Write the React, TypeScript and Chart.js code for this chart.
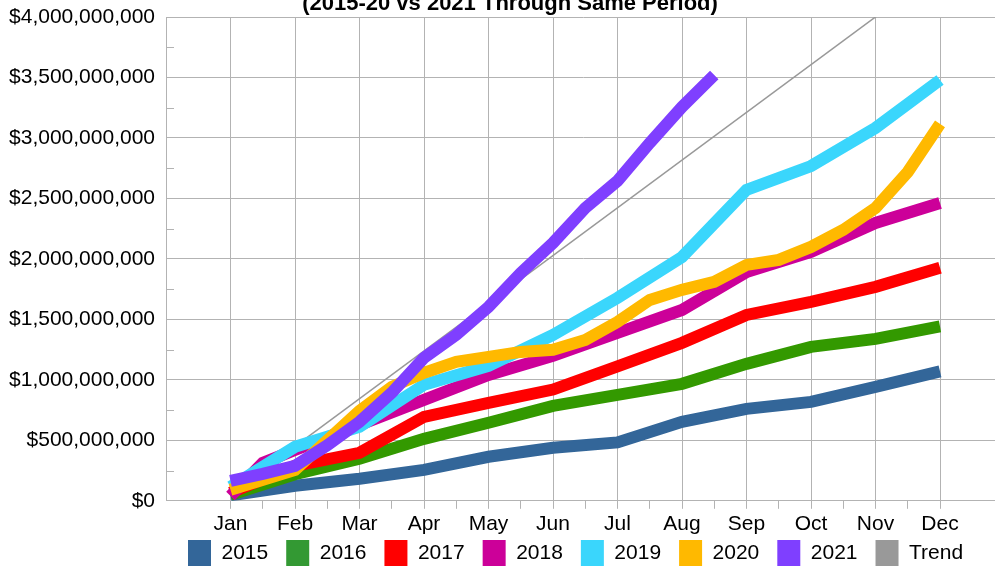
import React, { useEffect, useRef } from 'react';
import { Chart, registerables } from 'chart.js';

Chart.register(...registerables);

const TITLE = '(2015-20 vs 2021 Through Same Period)';
const MONTHS = ['Jan', 'Feb', 'Mar', 'Apr', 'May', 'Jun', 'Jul', 'Aug', 'Sep', 'Oct', 'Nov', 'Dec'];
// semi-monthly positions: 1 = Jan, 1.5 = mid-Jan, ... 12 = Dec
const X_POS = [1, 1.5, 2, 2.5, 3, 3.5, 4, 4.5, 5, 5.5, 6, 6.5, 7, 7.5, 8, 8.5, 9, 9.5, 10, 10.5, 11, 11.5, 12];
// y tick values (millions of dollars)
const Y_TICKS = [0, 250, 500, 750, 1000, 1250, 1500, 1750, 2000, 2250, 2500, 2750, 3000, 3250, 3500, 3750, 4000];

const N = null;
// cumulative values, millions of dollars
const S2015 = [45, N, 124, N, 182, N, 256, N, 364, N, 438, N, 483, N, 653, N, 760, N, 818, N, 942, N, 1070];
const S2016 = [50, N, 220, N, 347, N, 512, N, 645, N, 785, N, 876, N, 967, N, 1132, N, 1273, N, 1339, N, 1442];
const S2017 = [66, N, 289, N, 397, N, 694, N, 810, N, 920, N, 1112, N, 1306, N, 1537, N, 1645, N, 1769, N, 1926];
const S2018 = [40, 314, 420, N, 628, N, 835, N, 1041, N, 1198, N, 1388, N, 1578, N, 1892, N, 2058, N, 2297, N, 2463];
const S2019 = [116, N, 446, N, 612, N, 959, N, 1116, N, 1372, N, 1678, N, 2016, N, 2570, N, 2768, N, 3083, N, 3479];
const S2020 = [91, N, 256, N, 744, 942, 1058, 1149, 1190, 1231, 1248, 1330, 1479, 1661, 1744, 1810, 1950, 1992, 2099, 2240, 2421, 2719, 3116];
const S2021 = [165, 223, 289, 458, 653, 893, 1182, 1372, 1603, 1884, 2132, 2421, 2645, 2959, 3256, 3520, N, N, N, N, N, N, N];
const TREND = [55, N, N, N, N, N, N, N, N, N, N, N, N, N, N, N, N, N, N, N, N, N, 4395];

const SERIES = [
  { label: '2015', values: S2015, color: '#336699', box: '#336699', width: 12, order: 7 },
  { label: '2016', values: S2016, color: '#339900', box: '#339933', width: 12, order: 6 },
  { label: '2017', values: S2017, color: '#ff0000', box: '#ff0000', width: 12, order: 5 },
  { label: '2018', values: S2018, color: '#cc0099', box: '#cc0099', width: 12, order: 4 },
  { label: '2019', values: S2019, color: '#3ad6fc', box: '#3ad6fc', width: 12, order: 3 },
  { label: '2020', values: S2020, color: '#ffb900', box: '#ffb900', width: 12, order: 2 },
  { label: '2021', values: S2021, color: '#7f3fff', box: '#7f3fff', width: 12, order: 1 },
  { label: 'Trend', values: TREND, color: '#999999', box: '#999999', width: 1.5, order: 8 },
];

const GRID = '#b3b3b3';
const FONT = 'Liberation Sans';

const titlePlugin = {
  id: 'cutTitle',
  afterDraw(chart: any) {
    const ctx = chart.ctx;
    ctx.save();
    ctx.font = `bold 22px "${FONT}"`;
    ctx.fillStyle = '#000';
    ctx.textAlign = 'center';
    ctx.textBaseline = 'alphabetic';
    ctx.fillText(TITLE, 510, 10);
    ctx.restore();
  },
};

// pulls the legend up a little closer to the axis labels, and nudges it right
const legendShiftPlugin = {
  id: 'legendShift',
  beforeDraw(chart: any) {
    const lg = chart.legend;
    if (lg) {
      lg.top -= 18;
      lg.bottom -= 18;
      lg.left += 4;
      lg.right += 4;
    }
  },
};

const minorTickPlugin = {
  id: 'minorTicks',
  beforeDatasetsDraw(chart: any) {
    const ctx = chart.ctx;
    const y = chart.scales.y;
    const left = chart.chartArea.left;
    ctx.save();
    ctx.strokeStyle = GRID;
    ctx.lineWidth = 1;
    ctx.beginPath();
    for (const t of y.ticks) {
      if (t.value % 500 !== 0) {
        const py = Math.round(y.getPixelForValue(t.value)) + 0.5;
        ctx.moveTo(left, py);
        ctx.lineTo(left + 8, py);
      }
    }
    ctx.stroke();
    ctx.restore();
  },
};

export default function App() {
  const ref = useRef<HTMLCanvasElement | null>(null);

  useEffect(() => {
    if (!ref.current) return;
    const chart = new Chart(ref.current, {
      type: 'line',
      data: {
        datasets: SERIES.map((s) => ({
          label: s.label,
          data: X_POS.map((x, i) => ({ x, y: s.values[i] })),
          borderColor: s.color,
          backgroundColor: s.box,
          borderWidth: s.width,
          pointRadius: 0,
          pointHoverRadius: 0,
          tension: 0,
          spanGaps: true,
          fill: false,
          order: s.order,
        })),
      },
      options: {
        responsive: false,
        animation: false,
        devicePixelRatio: 1,
        events: [],
        layout: { padding: { top: 17, left: 0, right: 0, bottom: 0 } },
        scales: {
          x: {
            type: 'linear',
            min: 0,
            max: 12.93,
            afterBuildTicks: (s: any) => {
              s.ticks = X_POS.map((v) => ({ value: v }));
            },
            grid: {
              color: (c: any) => (c.tick && Number.isInteger(c.tick.value) ? GRID : 'rgba(0,0,0,0)'),
              tickColor: GRID,
              tickLength: 8,
              lineWidth: 1,
            },
            border: { color: GRID },
            ticks: {
              autoSkip: false,
              maxRotation: 0,
              padding: 3,
              color: '#000',
              font: { family: FONT, size: 21 },
              callback: (v: any) => (Number.isInteger(v) ? MONTHS[v - 1] : ''),
            },
          },
          y: {
            type: 'linear',
            min: 0,
            max: 4000,
            afterBuildTicks: (s: any) => {
              s.ticks = Y_TICKS.map((v) => ({ value: v }));
            },
            afterFit: (s: any) => {
              s.width = 166;
            },
            grid: {
              color: (c: any) => (c.tick && c.tick.value % 500 === 0 ? GRID : 'rgba(0,0,0,0)'),
              tickColor: 'rgba(0,0,0,0)',
              tickLength: 8,
              lineWidth: 1,
            },
            border: { color: GRID },
            ticks: {
              autoSkip: false,
              padding: 3,
              color: '#000',
              font: { family: FONT, size: 21 },
              callback: (v: any) => (v % 500 === 0 ? '$' + (v * 1e6).toLocaleString('en-US') : ''),
            },
          },
        },
        plugins: {
          title: { display: false },
          tooltip: { enabled: false },
          legend: {
            position: 'bottom',
            align: 'start',
            fullSize: false,
            labels: {
              boxWidth: 23,
              boxHeight: 26,
              padding: 18,
              color: '#000',
              font: { family: FONT, size: 21 },
              sort: (a: any, b: any) => a.datasetIndex - b.datasetIndex,
              generateLabels: (ch: any) =>
                (Chart.defaults.plugins.legend.labels.generateLabels as any)(ch).map((l: any) => ({
                  ...l,
                  lineWidth: 0,
                })),
            },
          },
        },
      } as any,
      plugins: [titlePlugin, minorTickPlugin, legendShiftPlugin],
    });
    return () => chart.destroy();
  }, []);

  return (
    <div
      style={{
        position: 'fixed',
        left: 0,
        top: 0,
        width: 995,
        height: 566,
        overflow: 'hidden',
        background: '#ffffff',
      }}
    >
      <canvas ref={ref} width={1000} height={594} style={{ display: 'block' }} />
    </div>
  );
}
